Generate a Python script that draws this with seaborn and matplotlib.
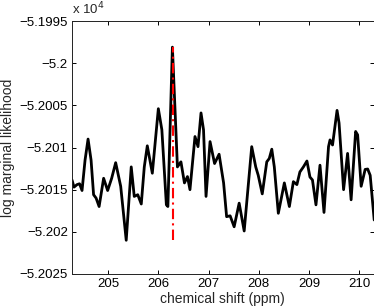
import matplotlib
matplotlib.use("Agg")
import matplotlib.pyplot as plt
import matplotlib.ticker as mticker
import numpy as np
import pandas as pd
import seaborn as sns

# chemical shift (ppm)
shift = [204.28, 204.32, 204.38, 204.43, 204.48, 204.54, 204.60, 204.66, 204.71, 204.76,
         204.82, 204.91, 204.99, 205.07, 205.15, 205.25, 205.36, 205.46, 205.52, 205.59,
         205.66, 205.72, 205.78, 205.88, 206.00, 206.07, 206.16, 206.19, 206.28, 206.38,
         206.45, 206.52, 206.58, 206.63, 206.73, 206.79, 206.85, 206.90, 206.95, 207.03,
         207.12, 207.21, 207.30, 207.36, 207.43, 207.51, 207.61, 207.71, 207.86, 207.94,
         207.99, 208.07, 208.16, 208.21, 208.26, 208.31, 208.39, 208.51, 208.61, 208.69,
         208.76, 208.82, 208.89, 208.96, 209.02, 209.07, 209.14, 209.22, 209.30, 209.39,
         209.42, 209.47, 209.56, 209.60, 209.69, 209.77, 209.84, 209.93, 209.97, 210.04,
         210.12, 210.17, 210.22, 210.30]
# log marginal likelihood
loglik = [-52013.85, -52014.7, -52014.4, -52014.3, -52015.1, -52011.5, -52009.0, -52011.5, -52015.6, -52016.0,
          -52017.0, -52013.65, -52015.1, -52013.65, -52011.8, -52014.6, -52021.0, -52012.3, -52015.8, -52015.6,
          -52016.7, -52012.3, -52009.8, -52013.05, -52005.4, -52007.9, -52016.8, -52017.0, -51998.1, -52012.3,
          -52011.7, -52014.2, -52013.45, -52015.0, -52008.7, -52009.9, -52005.9, -52007.9, -52015.8, -52009.3,
          -52011.9, -52010.8, -52014.2, -52018.2, -52018.1, -52019.4, -52016.6, -52019.9, -52009.9, -52012.3,
          -52013.3, -52015.5, -52011.7, -52011.3, -52010.2, -52012.3, -52017.8, -52014.2, -52017.0, -52014.05,
          -52014.4, -52012.9, -52012.3, -52011.6, -52013.5, -52013.85, -52016.8, -52012.1, -52017.7, -52009.9,
          -52009.1, -52009.7, -52005.6, -52007.1, -52015.0, -52010.7, -52016.2, -52008.1, -52008.5, -52014.6,
          -52012.6, -52012.55, -52013.3, -52018.6]
true_shift = 206.29

xticks = [205, 206, 207, 208, 209, 210]
yticks = [-52025, -52020, -52015, -52010, -52005, -52000, -51995]

sns.set_theme(style="ticks")
plt.rcParams['font.family'] = ['Liberation Sans', 'DejaVu Sans']
plt.rcParams['axes.unicode_minus'] = True

fig = plt.figure(figsize=(3.74, 3.08), dpi=100)
ax = fig.add_axes([72 / 374, 34 / 308, 301.7 / 374, 253 / 308])

df = pd.DataFrame({"shift": shift, "loglik": loglik})
sns.lineplot(data=df, x="shift", y="loglik", ax=ax, color="black", linewidth=2.0,
             sort=False, estimator=None, solid_joinstyle="round", solid_capstyle="round")
ax.vlines(true_shift, min(loglik), max(loglik), colors="red", linestyles=(0, (5, 2, 1, 2)),
          linewidth=1.5)

ax.set_xlim(204.28, 210.29)
ax.set_ylim(-52025, -51995)
ax.xaxis.set_major_locator(mticker.FixedLocator(xticks))
ax.yaxis.set_major_locator(mticker.FixedLocator(yticks))
ax.xaxis.set_major_formatter(mticker.FuncFormatter(lambda v, p: f"{v:g}"))
ax.yaxis.set_major_formatter(mticker.FuncFormatter(lambda v, p: f"{v / 1e4:g}".replace("-", "\u2212")))
ax.tick_params(direction="in", length=3, width=0.7, top=True, right=True,
               labelsize=9.5, colors="black", pad=3)
for s in ax.spines.values():
    s.set_visible(True)
    s.set_linewidth(0.7)
    s.set_color("#222222")

ax.set_xlabel("chemical shift (ppm)", fontsize=10, labelpad=1)
ax.set_ylabel("log marginal likelihood", fontsize=10, labelpad=3)
ax.text(0.0, 1.015, "x 10$^{4}$", transform=ax.transAxes, fontsize=9.5, ha="left", va="bottom")

fig.savefig("out.png", dpi=100)
